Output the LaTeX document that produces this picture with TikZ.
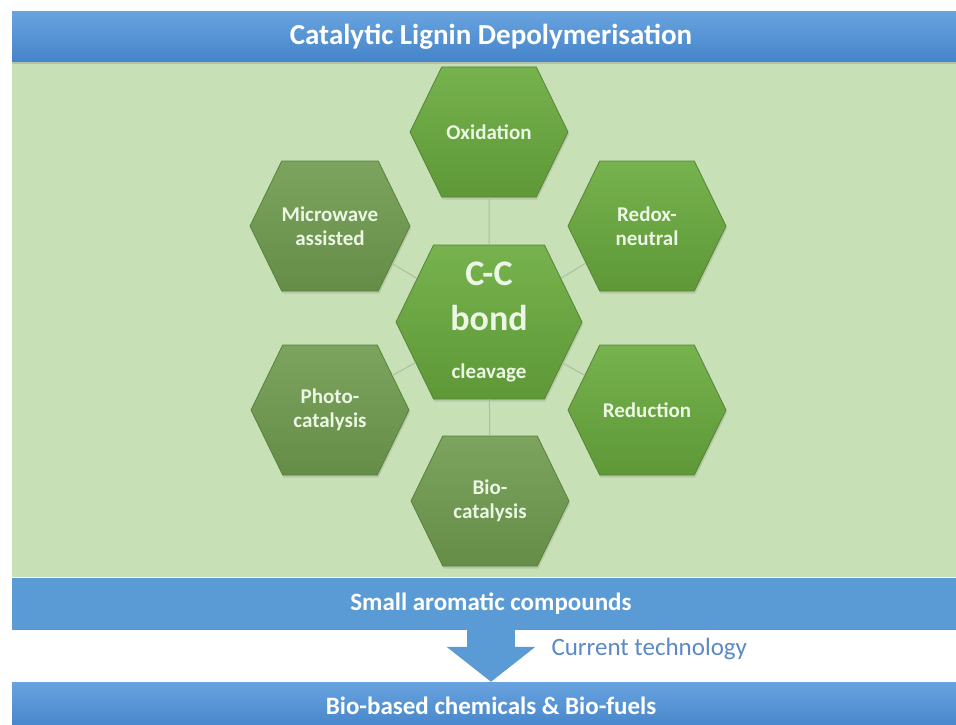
\documentclass[tikz,border=0pt]{standalone}
\usepackage{fontspec}
\setmainfont{Carlito}
\usepackage{xcolor}
\usepackage{tikz}
\usetikzlibrary{shapes.symbols, arrows.meta, positioning, shadows}

\definecolor{bandblue}{RGB}{91,155,213}
\definecolor{bandtop}{RGB}{104,163,223}
\definecolor{banddark}{RGB}{68,132,201}
\definecolor{panelgreen}{RGB}{199,224,181}
\definecolor{hexbrighttop}{RGB}{118,178,78}
\definecolor{hexbrightbot}{RGB}{94,152,55}
\definecolor{hexmutedtop}{RGB}{124,164,94}
\definecolor{hexmutedbot}{RGB}{101,141,72}
\definecolor{hexedge}{RGB}{86,132,56}
\definecolor{hextext}{RGB}{236,246,228}
\definecolor{linkgrey}{RGB}{172,190,164}
\definecolor{techblue}{RGB}{92,136,196}

\begin{document}
\begin{tikzpicture}[x=1pt, y=-1pt,
    band/.style={rectangle, minimum width=958pt, inner sep=0pt, text=white, font=\fontsize{25}{30}\selectfont\bfseries},
    shadedband/.style={top color=bandtop, bottom color=banddark},
    hexnode/.style={signal, signal to=east and west, signal pointer angle=128, inner sep=0pt,
        minimum width=158pt, minimum height=130pt, draw=hexedge, line width=0.8pt, align=center, text=hextext,
        font=\fontsize{21}{24}\selectfont\bfseries, drop shadow={shadow xshift=1pt, shadow yshift=-2.5pt, opacity=0.25}},
    bighex/.style={minimum width=186pt, minimum height=154pt, font=\fontsize{36}{45}\selectfont\bfseries},
    bright/.style={top color=hexbrighttop, bottom color=hexbrightbot},
    muted/.style={top color=hexmutedtop, bottom color=hexmutedbot},
    link/.style={draw=linkgrey, line width=1pt},
    flow/.style={draw=bandblue, line width=48pt, -{Triangle[length=35pt, width=87pt]}},
    techlabel/.style={text=techblue, font=\fontsize{25}{30}\selectfont}
]
\useasboundingbox (0,0) rectangle (956,725);

% Green panel behind the hexagons
\fill[panelgreen] (12,62) rectangle (956,577);

% Title banner
\node[band, shadedband, minimum height=50pt, font=\fontsize{29}{34}\selectfont\bfseries,
    drop shadow={shadow xshift=0pt, shadow yshift=-2pt, opacity=0.3}] (title) at (491,37) {Catalytic Lignin Depolymerisation};

% Centre hexagon
\node[hexnode, bighex, bright] (cc) at (489,322) {C-C\\bond\\[3pt]{\fontsize{21}{24}\selectfont cleavage}};

% Surrounding hexagons
\node[hexnode, bright] (ox) at (489,132) {Oxidation};
\node[hexnode, bright] (rn) at (647,226) {Redox-\\neutral};
\node[hexnode, bright] (rd) at (647,410) {Reduction};
\node[hexnode, muted] (bc) at (490,501) {Bio-\\catalysis};
\node[hexnode, muted] (pc) at (330,410) {Photo-\\catalysis};
\node[hexnode, muted] (mw) at (330,226) {Microwave\\assisted};

% Links from the centre
\draw[link] (cc) -- (ox);
\draw[link] (cc) -- (rn);
\draw[link] (cc) -- (rd);
\draw[link] (cc) -- (bc);
\draw[link] (cc) -- (pc);
\draw[link] (cc) -- (mw);

% Products
\node[band, fill=bandblue, minimum height=52pt] (small) at (491,604) {Small aromatic compounds};
\node[band, shadedband, minimum height=48pt] (fuels) at (491,706) {Bio-based chemicals \& Bio-fuels};

% Arrow 
\draw[flow] (small.south) -- (fuels.north);
\node[techlabel, anchor=base west] (tech) at (548,655) {Current technology};

\end{tikzpicture}
\end{document}
